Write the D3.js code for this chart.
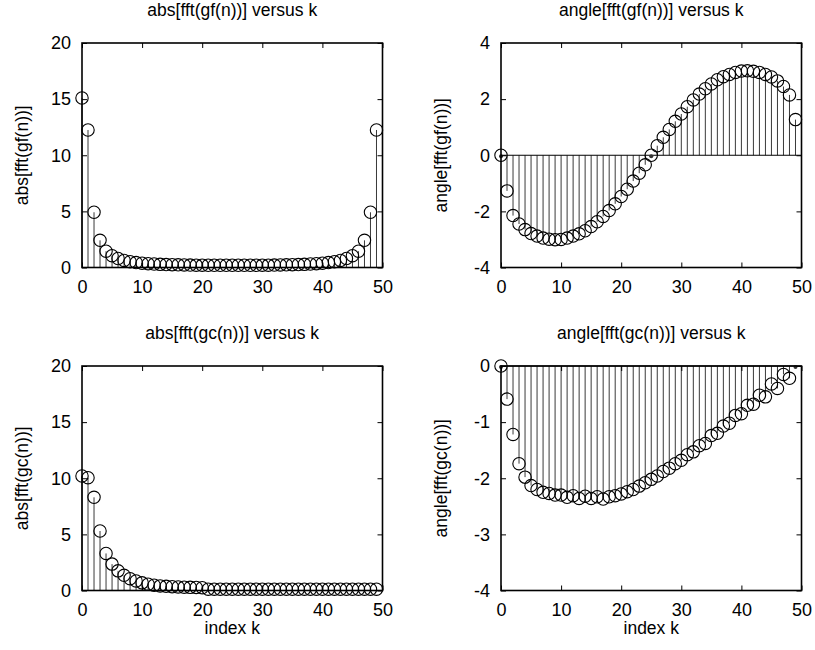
<!DOCTYPE html>
<html>
<head>
<meta charset="utf-8">
<script src="https://cdn.jsdelivr.net/npm/d3@7"></script>
<style>
  body { margin: 0; background: #fff; }
  svg text { font-family: "Liberation Sans", Arial, Helvetica, sans-serif; }
</style>
</head>
<body>
<svg id="c" width="815" height="650"></svg>
<script>
// ---------------- data ----------------
const kIndex = d3.range(50);
const absGf = [15.1, 12.25, 4.92, 2.42, 1.45, 1.05, 0.8, 0.63, 0.52, 0.44,
               0.38, 0.34, 0.31, 0.28, 0.26, 0.25, 0.24, 0.23, 0.22, 0.21,
               0.21, 0.2, 0.2, 0.2, 0.2, 0.2, 0.2, 0.2, 0.2, 0.2,
               0.21, 0.21, 0.22, 0.23, 0.24, 0.25, 0.26, 0.28, 0.31, 0.34,
               0.38, 0.44, 0.52, 0.63, 0.8, 1.05, 1.45, 2.42, 4.92, 12.25];
const angleGf = [0, -1.27, -2.15, -2.45, -2.65, -2.79, -2.88, -2.95, -2.99, -3.01,
                 -3.0, -2.95, -2.88, -2.8, -2.69, -2.54, -2.37, -2.18, -1.97, -1.73,
                 -1.47, -1.21, -0.92, -0.64, -0.34, 0, 0.34, 0.64, 0.92, 1.21,
                 1.47, 1.73, 1.97, 2.18, 2.37, 2.54, 2.69, 2.8, 2.88, 2.95,
                 3.0, 3.01, 2.99, 2.95, 2.88, 2.79, 2.65, 2.45, 2.15, 1.27];
const absGc = [10.2, 10.05, 8.3, 5.3, 3.3, 2.35, 1.75, 1.35, 1.05, 0.85,
               0.68, 0.56, 0.47, 0.41, 0.37, 0.34, 0.32, 0.3, 0.28, 0.27,
               0.25, 0.12, 0.12, 0.12, 0.12, 0.12, 0.12, 0.12, 0.12, 0.12,
               0.12, 0.12, 0.12, 0.12, 0.12, 0.12, 0.12, 0.12, 0.12, 0.12,
               0.12, 0.12, 0.12, 0.12, 0.12, 0.12, 0.12, 0.12, 0.12, 0.12];
const angleGc = [0, -0.59, -1.22, -1.74, -1.98, -2.13, -2.2, -2.25, -2.27, -2.3,
                 -2.3, -2.34, -2.31, -2.36, -2.32, -2.36, -2.33, -2.37, -2.33, -2.31,
                 -2.28, -2.24, -2.2, -2.14, -2.08, -2.02, -1.96, -1.88, -1.82, -1.74,
                 -1.68, -1.58, -1.53, -1.42, -1.38, -1.24, -1.2, -1.07, -1.02, -0.88,
                 -0.85, -0.7, -0.68, -0.52, -0.55, -0.32, -0.4, -0.15, -0.22, 0.3];
const xTicks = [0, 10, 20, 30, 40, 50];
const absTicks = [0, 5, 10, 15, 20];
const angleGfTicks = [-4, -2, 0, 2, 4];
const angleGcTicks = [-4, -3, -2, -1, 0];
const titles = ["abs[fft(gf(n))] versus k", "angle[fft(gf(n))] versus k",
                "abs[fft(gc(n))] versus k", "angle[fft(gc(n))] versus k"];
const yLabels = ["abs[fft(gf(n))]", "angle[fft(gf(n))]", "abs[fft(gc(n))]", "angle[fft(gc(n))]"];
const xLabel = "index k";

// ---------------- layout ----------------
const W = 300.5, H = 224.5, FS = 18;
const panels = [
  { vals: absGf,   dom: [0, 20], ticks: absTicks,     left: 82,  top: 43,  xlab: false },
  { vals: angleGf, dom: [-4, 4], ticks: angleGfTicks, left: 501, top: 43,  xlab: false },
  { vals: absGc,   dom: [0, 20], ticks: absTicks,     left: 82,  top: 366, xlab: true },
  { vals: angleGc, dom: [-4, 0], ticks: angleGcTicks, left: 501, top: 366, xlab: true }
];

const svg = d3.select("#c");

panels.forEach((p, i) => {
  const x = d3.scaleLinear().domain([0, 50]).range([p.left, p.left + W]);
  const y = d3.scaleLinear().domain(p.dom).range([p.top + H, p.top]);
  const g = svg.append("g");
  const clamp = v => Math.max(p.dom[0], Math.min(p.dom[1], v));

  // stems
  g.selectAll("line.stem").data(kIndex).join("line")
    .attr("class", "stem")
    .attr("x1", d => x(d)).attr("x2", d => x(d))
    .attr("y1", y(0)).attr("y2", d => y(clamp(p.vals[d])))
    .attr("stroke", "#3a3a3a").attr("stroke-width", 1);

  // baseline
  g.append("line")
    .attr("x1", x(0)).attr("x2", x(50))
    .attr("y1", y(0)).attr("y2", y(0))
    .attr("stroke", "#000").attr("stroke-width", 1);

  // small base dots where a stem has (almost) no length or leaves the axes
  if (p.dom[0] < 0) {
    g.selectAll("circle.base").data(kIndex.filter(d => Math.abs(p.vals[d]) < 0.05 || p.vals[d] > p.dom[1])).join("circle")
      .attr("class", "base")
      .attr("cx", d => x(d)).attr("cy", y(0) + 1)
      .attr("r", 2).attr("fill", "#333");
  }

  // markers (only those inside the axis limits)
  g.selectAll("circle.mk").data(kIndex.filter(d => p.vals[d] >= p.dom[0] && p.vals[d] <= p.dom[1])).join("circle")
    .attr("class", "mk")
    .attr("cx", d => x(d)).attr("cy", d => y(p.vals[d]))
    .attr("r", 6.2)
    .attr("fill", "none").attr("stroke", "#000").attr("stroke-width", 1.1);

  // axes (ticks pointing inward, mirrored on all sides)
  const styleAxis = sel => {
    sel.select(".domain").remove();
    sel.selectAll("text").attr("font-size", FS).attr("fill", "#000")
      .attr("font-family", "Liberation Sans, Arial, Helvetica, sans-serif");
    sel.selectAll("line").attr("stroke", "#000");
  };
  g.append("g").attr("transform", `translate(0,${p.top + H})`)
    .call(d3.axisBottom(x).tickValues(xTicks).tickSizeInner(-5).tickSizeOuter(0).tickPadding(12.5))
    .call(styleAxis);
  g.append("g").attr("transform", `translate(0,${p.top})`)
    .call(d3.axisTop(x).tickValues(xTicks).tickSizeInner(-5).tickSizeOuter(0).tickFormat(""))
    .call(styleAxis);
  g.append("g").attr("transform", `translate(${p.left},0)`)
    .call(d3.axisLeft(y).tickValues(p.ticks).tickSizeInner(-5).tickSizeOuter(0).tickPadding(11)
      .tickFormat(d => String(d)))
    .call(styleAxis);
  g.append("g").attr("transform", `translate(${p.left + W},0)`)
    .call(d3.axisRight(y).tickValues(p.ticks).tickSizeInner(-5).tickSizeOuter(0).tickFormat(""))
    .call(styleAxis);

  // box
  g.append("rect")
    .attr("x", p.left).attr("y", p.top).attr("width", W).attr("height", H)
    .attr("fill", "none").attr("stroke", "#000").attr("stroke-width", 1.6);

  // title
  g.append("text")
    .attr("x", p.left + W / 2).attr("y", p.top - 27)
    .attr("text-anchor", "middle").attr("font-size", FS - 0.5)
    .text(titles[i]);

  // y label
  g.append("text")
    .attr("transform", `translate(${p.left - 54},${p.top + H / 2}) rotate(-90)`)
    .attr("text-anchor", "middle").attr("font-size", FS - 0.5)
    .text(yLabels[i]);

  // x label
  if (p.xlab) {
    g.append("text")
      .attr("x", p.left + W / 2).attr("y", p.top + H + 43)
      .attr("text-anchor", "middle").attr("font-size", FS - 0.5)
      .text(xLabel);
  }
});
</script>
</body>
</html>
